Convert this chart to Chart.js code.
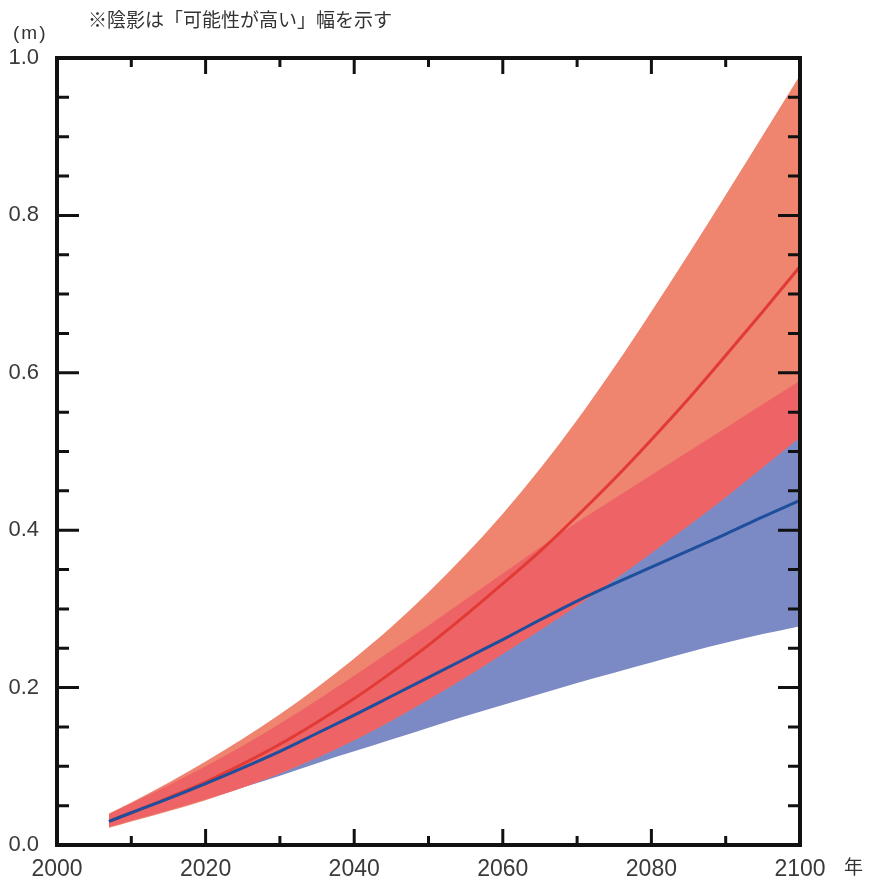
<!DOCTYPE html>
<html>
<head>
<meta charset="utf-8">
<script src="https://cdn.jsdelivr.net/npm/chart.js@4.4.1/dist/chart.umd.min.js"></script>
<style>
	body { margin: 0; background: #fff; }
	#wrap { position: relative; width: 871px; height: 883px; }
	.lbl { position: absolute; color: #333; white-space: nowrap; line-height: 1; }
</style>
</head>
<body>
<div id="wrap">
	<canvas id="Chart1" width="871" height="883"></canvas>
	<div class="lbl" style="left:13px;top:23px;font-size:19px;letter-spacing:2px;font-family:'Liberation Sans',Arial,sans-serif;">(m)</div>
	<div class="lbl" style="left:88px;top:9px;font-size:19px;font-family:'Noto Sans CJK JP',sans-serif;">※陰影は「可能性が高い」幅を示す</div>
	<div class="lbl" style="left:844px;top:856px;font-size:19px;font-family:'Noto Sans CJK JP',sans-serif;">年</div>
</div>
<script>
const years = [2007, 2010, 2015, 2020, 2025, 2030, 2035, 2040, 2045, 2050, 2055, 2060, 2065, 2070, 2075, 2080, 2085, 2090, 2095, 2100];

// high scenario (red)
const redMean  = [0.030, 0.041, 0.060, 0.080, 0.103, 0.128, 0.156, 0.186, 0.219, 0.254, 0.292, 0.332, 0.373, 0.418, 0.465, 0.515, 0.567, 0.622, 0.678, 0.735];
const redUpper = [0.040, 0.054, 0.079, 0.106, 0.135, 0.166, 0.200, 0.237, 0.277, 0.321, 0.369, 0.421, 0.478, 0.540, 0.607, 0.678, 0.751, 0.826, 0.902, 0.978];
const redLower = [0.022, 0.030, 0.043, 0.057, 0.073, 0.091, 0.111, 0.133, 0.158, 0.185, 0.213, 0.243, 0.273, 0.304, 0.337, 0.371, 0.406, 0.442, 0.480, 0.518];

// low scenario (blue)
const blueMean  = [0.030, 0.041, 0.059, 0.078, 0.098, 0.119, 0.142, 0.165, 0.189, 0.213, 0.237, 0.261, 0.286, 0.310, 0.332, 0.353, 0.374, 0.395, 0.417, 0.438];
const blueUpper = [0.039, 0.053, 0.076, 0.100, 0.126, 0.154, 0.184, 0.215, 0.247, 0.279, 0.312, 0.345, 0.378, 0.410, 0.440, 0.470, 0.500, 0.530, 0.560, 0.590];
const blueLower = [0.023, 0.031, 0.044, 0.058, 0.073, 0.088, 0.104, 0.119, 0.134, 0.149, 0.164, 0.178, 0.192, 0.206, 0.219, 0.232, 0.245, 0.257, 0.268, 0.278];

// tick labels
const xTickLabels = [2000, 2020, 2040, 2060, 2080, 2100];
const yTickLabels = [0.0, 0.2, 0.4, 0.6, 0.8, 1.0];

const pts = arr => arr.map((v, i) => ({ x: years[i], y: v }));

// where both shaded ranges overlap
const overlapTop = redUpper.map((v, i) => Math.min(v, blueUpper[i]));
const overlapBottom = redLower.map((v, i) => Math.max(v, blueLower[i]));

const band = (data, fill, color, order) => ({
	data: pts(data),
	fill: fill,
	backgroundColor: color,
	borderWidth: 0,
	pointRadius: 0,
	cubicInterpolationMode: 'monotone',
	order: order
});

// inward ticks on all four sides + frame
const frameTicks = {
	id: 'frameTicks',
	afterDatasetsDraw(chart) {
		const { ctx, chartArea: a, scales } = chart;
		const xs = scales.x, ys = scales.y;
		ctx.save();
		ctx.strokeStyle = '#111';
		ctx.lineWidth = 3;
		for (let yr = 2010; yr < 2100; yr += 10) {
			const px = xs.getPixelForValue(yr);
			const len = yr % 20 === 0 ? 16 : 9;
			ctx.beginPath();
			ctx.moveTo(px, a.bottom); ctx.lineTo(px, a.bottom - len);
			ctx.moveTo(px, a.top); ctx.lineTo(px, a.top + len);
			ctx.stroke();
		}
		for (let k = 1; k < 20; k++) {
			const v = k * 0.05;
			const py = ys.getPixelForValue(v);
			const len = k % 4 === 0 ? 22 : 12;
			ctx.beginPath();
			ctx.moveTo(a.left, py); ctx.lineTo(a.left + len, py);
			ctx.moveTo(a.right, py); ctx.lineTo(a.right - len, py);
			ctx.stroke();
		}
		ctx.lineWidth = 4;
		ctx.strokeRect(a.left, a.top, a.right - a.left, a.bottom - a.top);
		ctx.restore();
	}
};

const ctx = document.getElementById('Chart1');
const myChart = new Chart(ctx, {
	type: 'line',
	data: {
		datasets: [
			band(blueUpper, 1, '#7b8ac4', 10),
			band(blueLower, false, 'transparent', 9),
			band(redUpper, 3, '#ef846f', 8),
			band(redLower, false, 'transparent', 7),
			band(overlapTop, 5, '#ed6366', 6),
			band(overlapBottom, false, 'transparent', 5),
			{ data: pts(redMean), borderColor: '#e23a35', borderWidth: 3, pointRadius: 0, cubicInterpolationMode: 'monotone', fill: false, order: 2 },
			{ data: pts(blueMean), borderColor: '#1f4f9c', borderWidth: 3, pointRadius: 0, cubicInterpolationMode: 'monotone', fill: false, order: 1 }
		]
	},
	options: {
		responsive: false,
		animation: false,
		devicePixelRatio: 1,
		layout: { padding: { left: 0, top: 58, right: 71, bottom: 0 } },
		plugins: { legend: { display: false }, tooltip: { enabled: false } },
		scales: {
			x: {
				type: 'linear',
				min: 2000,
				max: 2100,
				afterBuildTicks: s => { s.ticks = xTickLabels.map(v => ({ value: v })); },
				afterFit: s => { s.height = 38; },
				grid: { display: false },
				border: { display: false },
				ticks: {
					padding: 3,
					color: '#3a3a3a',
					maxRotation: 0,
					font: { family: 'Liberation Sans', size: 23 },
					callback: v => String(v)
				}
			},
			y: {
				min: 0,
				max: 1,
				afterBuildTicks: s => { s.ticks = yTickLabels.map(v => ({ value: v })); },
				afterFit: s => { s.width = 57; },
				grid: { display: false },
				border: { display: false },
				ticks: {
					padding: 10,
					color: '#3a3a3a',
					font: { family: 'Liberation Sans', size: 22 },
					callback: v => v.toFixed(1)
				}
			}
		}
	},
	plugins: [frameTicks]
});
</script>
</body>
</html>
